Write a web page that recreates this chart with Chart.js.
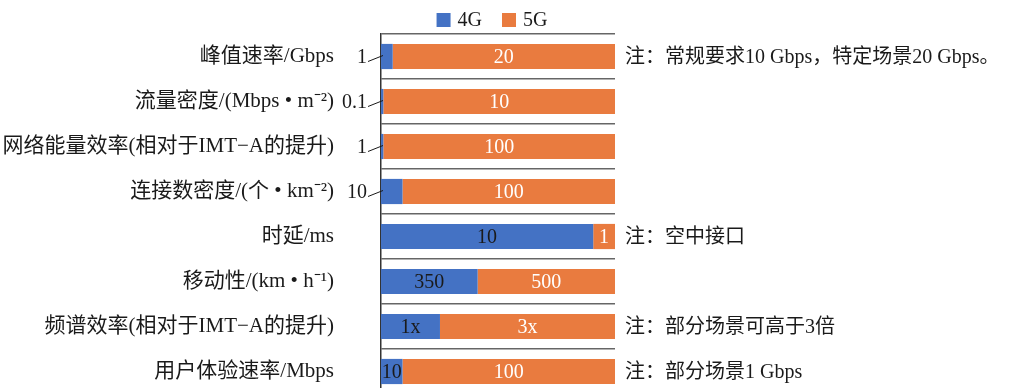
<!DOCTYPE html>
<html><head><meta charset="utf-8">
<script src="https://cdn.jsdelivr.net/npm/chart.js@4.4.0/dist/chart.umd.min.js"></script>
<style>html,body{margin:0;padding:0;background:#fff;overflow:hidden}
#wrap{width:1010px;height:400px;position:relative}</style>
</head><body><div id="wrap"><canvas id="c"></canvas></div>
<script>
const categories = ['峰值速率/Gbps','流量密度/(Mbps • m⁻²)','网络能量效率(相对于IMT−A的提升)','连接数密度/(个 • km⁻²)','时延/ms','移动性/(km • h⁻¹)','频谱效率(相对于IMT−A的提升)','用户体验速率/Mbps'];
const seriesNames = ['4G','5G'];
const share4G = [5, 1, 1, 9.2, 90.7, 41.3, 25.2, 9.2];
const share5G = [95, 99, 99, 90.8, 9.3, 58.7, 74.8, 90.8];
const labels4G = ['1','0.1','1','10','10','350','1x','10'];
const labels5G = ['20','10','100','100','1','500','3x','100'];
const outside4G = [true,true,true,true,false,false,false,false];
const notes = ['注：常规要求10 Gbps，特定场景20 Gbps。','','','','注：空中接口','','注：部分场景可高于3倍','注：部分场景1 Gbps'];

const COLORS = ['#4472C4','#E97B3F'];
const FONT = '"Liberation Serif", "Noto Sans CJK SC", serif';
const TXT = '#1a1a1a';

const annot = {
  id:'annot',
  afterDatasetsDraw(chart){
    const ctx=chart.ctx, area=chart.chartArea;
    const m0=chart.getDatasetMeta(0), m1=chart.getDatasetMeta(1);
    ctx.save();
    ctx.font='20px '+FONT;
    ctx.textBaseline='middle';
    categories.forEach((c,i)=>{
      const b0=m0.data[i], b1=m1.data[i];
      const y=b0.y;
      ctx.fillStyle='#fff'; ctx.textAlign='center';
      ctx.fillText(labels5G[i], (b1.base+b1.x)/2, y+1);
      ctx.fillStyle=TXT;
      if(outside4G[i]){
        ctx.textAlign='right';
        ctx.fillText(labels4G[i], area.left-14, y+1);
        ctx.strokeStyle=TXT; ctx.lineWidth=1;
        ctx.beginPath(); ctx.moveTo(area.left-13, y+5); ctx.lineTo(area.left+2, y-1); ctx.stroke();
      } else {
        ctx.textAlign='center';
        ctx.fillText(labels4G[i], (b0.base+b0.x)/2, y+1);
      }
      if(notes[i]){ ctx.textAlign='left'; ctx.fillText(notes[i], area.right+10, y+1); }
    });
    // legend
    const box=14, gap=7, between=20;
    const widths=seriesNames.map(n=>ctx.measureText(n).width);
    const total=widths.reduce((a,w)=>a+box+gap+w,0)+between*(seriesNames.length-1);
    let x=(area.left+area.right)/2-6-total/2;
    const ly=20;
    seriesNames.forEach((n,k)=>{
      ctx.fillStyle=COLORS[k]; ctx.fillRect(x, ly-box/2, box, box);
      x+=box+gap;
      ctx.fillStyle=TXT; ctx.textAlign='left'; ctx.fillText(n, x, ly+1);
      x+=widths[k]+between;
    });
    ctx.restore();
  }
};

new Chart(document.getElementById('c'), {
  type:'bar',
  data:{
    labels:categories,
    datasets:[
      {label:seriesNames[0], data:share4G, backgroundColor:COLORS[0], borderWidth:0, barPercentage:0.56, categoryPercentage:1},
      {label:seriesNames[1], data:share5G, backgroundColor:COLORS[1], borderWidth:0, barPercentage:0.56, categoryPercentage:1}
    ]
  },
  options:{
    indexAxis:'y',
    responsive:true, maintainAspectRatio:false, animation:false,
    layout:{padding:{left:0,right:395,top:34,bottom:6}},
    plugins:{legend:{display:false}, tooltip:{enabled:false}},
    scales:{
      x:{stacked:true, min:0, max:100, display:false},
      y:{stacked:true, offset:true,
         grid:{offset:true, color:'#666', lineWidth:1.5, drawTicks:false},
         border:{display:true, color:'#333', width:1.5},
         ticks:{font:{family:FONT, size:21}, color:TXT, padding:47},
         afterFit(s){ s.width=381; s.paddingTop=0; s.paddingBottom=0; }
      }
    }
  },
  plugins:[annot]
});
</script></body></html>
